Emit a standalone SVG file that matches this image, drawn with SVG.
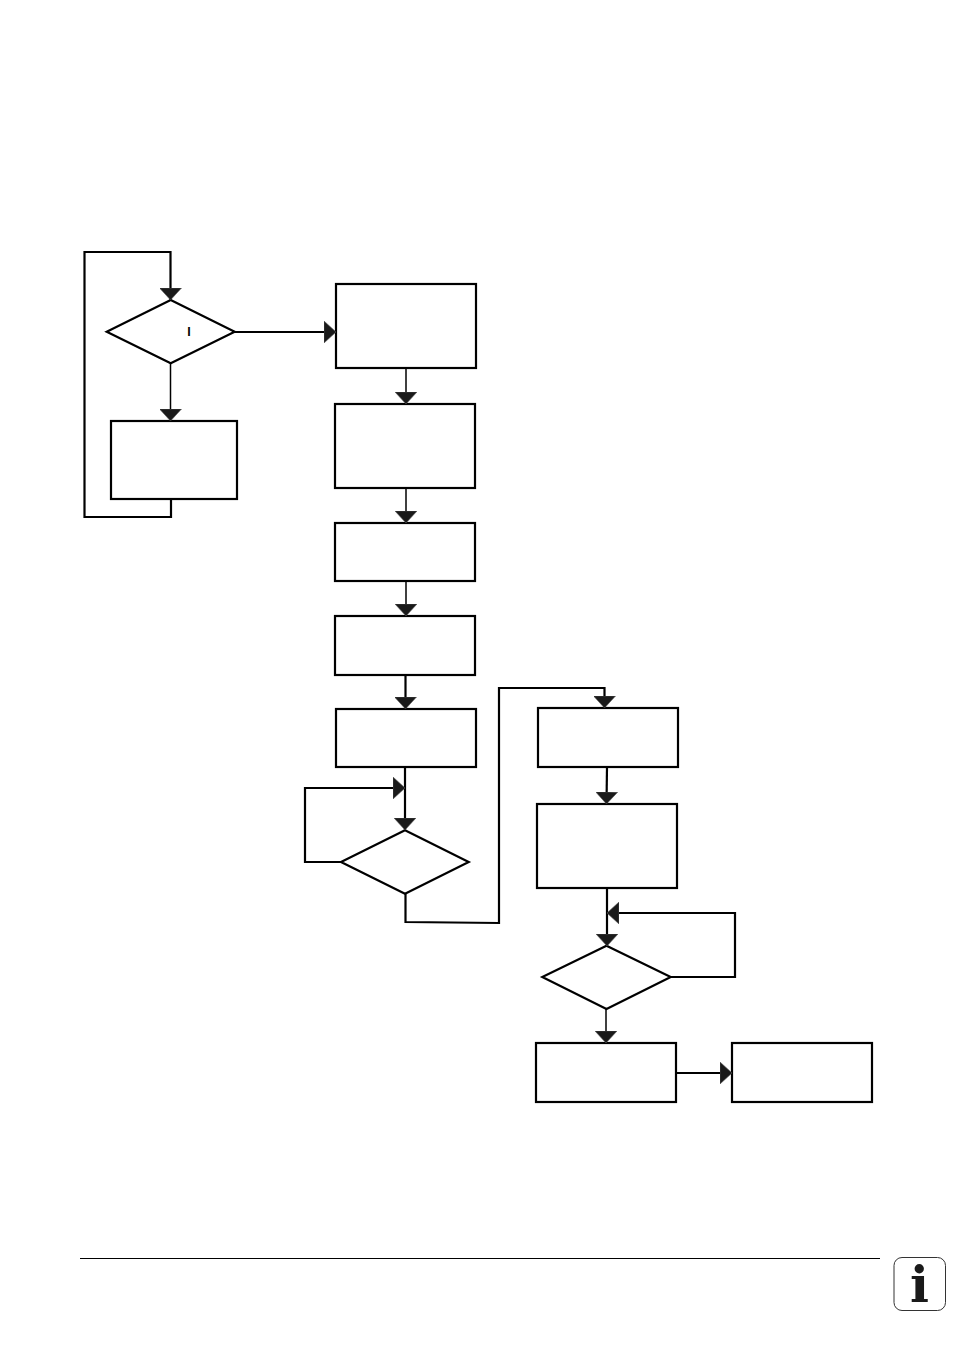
<svg xmlns="http://www.w3.org/2000/svg" width="954" height="1346" viewBox="0 0 954 1346">
<style>
.n{fill:#fff;stroke:#000;stroke-width:2.200}
.c{fill:none;stroke:#000;stroke-width:2.200}
.t{stroke-width:1.500}
.a{marker-end:url(#ah)}
</style>
<defs>
<marker id="ah" markerUnits="userSpaceOnUse" viewBox="0 0 12 22" refX="12" refY="11" markerWidth="12" markerHeight="22" orient="auto">
<path d="M0 0L12 11L0 22Z" fill="#1a1a1a" stroke="#555" stroke-width="0.6"/>
</marker>
</defs>
<rect width="954" height="1346" fill="#fff"/>
<g id="d1"><polygon class="n" points="170.7,300 234.7,331.7 170.7,363.3 106.7,331.7"/><text x="189" y="336" font-family="Liberation Sans, sans-serif" font-weight="bold" font-size="12.500" text-anchor="middle" fill="#000" opacity="0.99">I</text></g>
<g id="n0"><rect class="n" x="111" y="421" width="126" height="78"/></g>
<g id="n1"><rect class="n" x="336" y="284" width="140" height="84"/></g>
<g id="n2"><rect class="n" x="335" y="404" width="140" height="84"/></g>
<g id="n3"><rect class="n" x="335" y="523" width="140" height="58"/></g>
<g id="n4"><rect class="n" x="335" y="616" width="140" height="59"/></g>
<g id="n5"><rect class="n" x="336" y="709" width="140" height="58"/></g>
<g id="d2"><polygon class="n" points="405,830.3 468.7,862 405,893.7 341,862"/></g>
<g id="n6"><rect class="n" x="538" y="708" width="140" height="59"/></g>
<g id="n7"><rect class="n" x="537" y="804" width="140" height="84"/></g>
<g id="d3"><polygon class="n" points="606.5,945.7 670.7,977 606.5,1009 542.3,977"/></g>
<g id="n8"><rect class="n" x="536" y="1043" width="140" height="59"/></g>
<g id="n9"><rect class="n" x="732" y="1043" width="140" height="59"/></g>
<g id="connectors">
<path class="c a" d="M171 499V517H84.500V252H170.500V300"/>
<path class="c a" d="M235 332H336"/>
<path class="c t a" d="M170.500 363V421"/>
<path class="c t a" d="M406 368V404"/>
<path class="c t a" d="M406 488V523"/>
<path class="c t a" d="M406 581V616"/>
<path class="c a" d="M405.500 675V709"/>
<path class="c a" d="M405 767V830"/>
<path class="c a" d="M341 862H305V788H405"/>
<path class="c a" d="M405.500 894V922L499 923V688H604.500V708"/>
<path class="c a" d="M607 767L606.500 804"/>
<path class="c a" d="M607 888V946"/>
<path class="c a" d="M671 977H735V913H607"/>
<path class="c t a" d="M606 1009V1043"/>
<path class="c a" d="M676 1073H732"/>
</g>
<g id="footer">
<path d="M80 1258.500H880" stroke="#000" stroke-width="1" fill="none"/>
<rect x="894" y="1257.500" width="51.500" height="53" rx="8" fill="#fff" stroke="#333" stroke-width="1"/>
<text x="919.500" y="1302" font-family="DejaVu Serif, serif" font-weight="bold" font-size="50" text-anchor="middle" fill="#1a1a1a">i</text>
</g>
</svg>
